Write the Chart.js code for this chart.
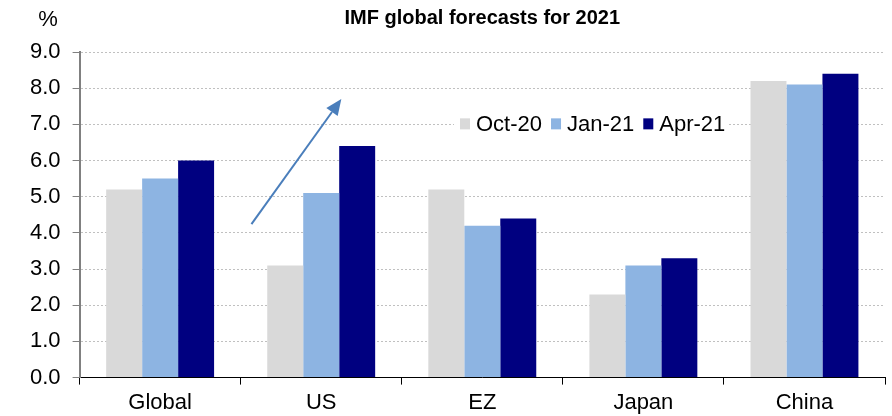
<!DOCTYPE html>
<html><head><meta charset="utf-8">
<script src="https://cdn.jsdelivr.net/npm/chart.js@4"></script>
<style>html,body{margin:0;padding:0;background:#fff}#wrap{width:892px;height:416px}</style>
</head><body><div id="wrap"><canvas id="c"></canvas></div>
<script>
const categories = ['Global', 'US', 'EZ', 'Japan', 'China'];
const seriesLabels = ['Oct-20', 'Jan-21', 'Apr-21'];
const oct20 = [5.2, 3.1, 5.2, 2.3, 8.2];
const jan21 = [5.5, 5.1, 4.2, 3.1, 8.1];
const apr21 = [6.0, 6.4, 4.4, 3.3, 8.4];
const colors = ['#d9d9d9', '#8db4e2', '#000080'];
const titleText = 'IMF global forecasts for 2021';
const unitLabel = '%';
// arrow annotation in data coordinates: [categoryIndex, value]
const arrowFrom = [0.567, 4.24];
const arrowTo = [1.125, 7.7];

const FONT = '"Liberation Sans", Arial, sans-serif';

const overlay = {
  id: 'overlay',
  afterDatasetsDraw(chart) {
    const ctx = chart.ctx, xs = chart.scales.x, ys = chart.scales.y;
    ctx.save();
    // arrow
    const x1 = xs.getPixelForValue(arrowFrom[0]), y1 = ys.getPixelForValue(arrowFrom[1]);
    const x2 = xs.getPixelForValue(arrowTo[0]), y2 = ys.getPixelForValue(arrowTo[1]);
    const ang = Math.atan2(y2 - y1, x2 - x1);
    const hl = 16, hw = 7;
    const bx = x2 - hl * Math.cos(ang), by = y2 - hl * Math.sin(ang);
    ctx.strokeStyle = '#4a7ebb'; ctx.fillStyle = '#4a7ebb'; ctx.lineWidth = 2;
    ctx.beginPath(); ctx.moveTo(x1, y1); ctx.lineTo(bx, by); ctx.stroke();
    ctx.beginPath();
    ctx.moveTo(x2, y2);
    ctx.lineTo(bx + hw * Math.sin(ang), by - hw * Math.cos(ang));
    ctx.lineTo(bx - hw * Math.sin(ang), by + hw * Math.cos(ang));
    ctx.closePath(); ctx.fill();
    // legend
    const ly = ys.getPixelForValue(7.0);
    const lx = 454;
    ctx.fillStyle = '#fff';
    ctx.fillRect(lx, ly - 13, 274, 26);
    ctx.font = '22px ' + FONT;
    ctx.textBaseline = 'middle';
    let x = 460;
    chart.data.datasets.forEach((ds) => {
      ctx.fillStyle = ds.backgroundColor;
      ctx.fillRect(x, ly - 6, 10, 11);
      x += 16;
      ctx.fillStyle = '#000';
      ctx.fillText(ds.label, x, ly + 1);
      x += ctx.measureText(ds.label).width + 9;
    });
    // unit label
    ctx.textAlign = 'center';
    ctx.fillText(unitLabel, 48, 20);
    ctx.restore();
  }
};

new Chart(document.getElementById('c'), {
  type: 'bar',
  data: {
    labels: categories,
    datasets: [
      { label: seriesLabels[0], data: oct20, backgroundColor: colors[0] },
      { label: seriesLabels[1], data: jan21, backgroundColor: colors[1] },
      { label: seriesLabels[2], data: apr21, backgroundColor: colors[2] }
    ]
  },
  options: {
    responsive: true, maintainAspectRatio: false, animation: false,
    layout: { padding: { left: 18, right: 7, top: 0, bottom: -5 } },
    datasets: { bar: { categoryPercentage: 0.67, barPercentage: 1.0 } },
    plugins: {
      legend: { display: false },
      tooltip: { enabled: false },
      title: {
        display: true, text: titleText, fullSize: false, color: '#000',
        font: { family: FONT, size: 20, weight: 'bold', lineHeight: 1.2 },
        padding: { top: 6, bottom: 22 }
      }
    },
    scales: {
      x: {
        grid: { offset: true, drawOnChartArea: false, drawTicks: true, tickLength: 7, tickColor: '#000', tickWidth: 1 },
        border: { display: true, color: '#000', width: 1 },
        ticks: { color: '#000', font: { family: FONT, size: 22 }, padding: 5 }
      },
      y: {
        min: 0, max: 9,
        grid: { color: '#c0c0c0', lineWidth: 1, tickColor: '#808080', tickLength: 7, tickWidth: 1, drawTicks: true },
        border: { display: true, color: '#808080', width: 2, dash: [2, 2] },
        ticks: { stepSize: 1, color: '#000', font: { family: FONT, size: 22 }, padding: 12,
                 callback: (v) => v.toFixed(1) }
      }
    }
  },
  plugins: [overlay]
});
</script></body></html>
